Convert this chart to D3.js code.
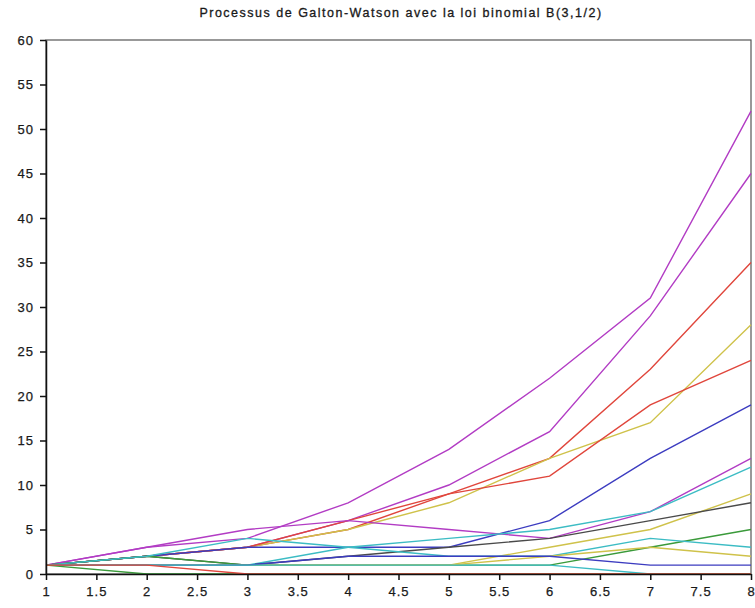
<!DOCTYPE html>
<html>
<head>
<meta charset="utf-8">
<script src="https://cdn.jsdelivr.net/npm/d3@7"></script>
<style>
  body { margin: 0; background: #fff; }
  svg text { font-family: "Liberation Sans", Arial, sans-serif; fill: #222; }
</style>
</head>
<body>
<div id="chart"></div>
<script>
// generations (x axis)
const generations = [1, 2, 3, 4, 5, 6, 7, 8];

// population size per generation, one array per simulated trajectory
const trajA = [1, 3, 4, 8, 14, 22, 31, 52];
const trajB = [1, 2, 3, 6, 10, 16, 29, 45];
const trajC = [1, 2, 3, 5, 9, 13, 23, 35];
const trajD = [1, 2, 3, 5, 8, 13, 17, 28];
const trajE = [1, 2, 3, 6, 9, 11, 19, 24];
const trajF = [1, 2, 3, 3, 3, 6, 13, 19];
const trajG = [1, 3, 5, 6, 5, 4, 7, 13];
const trajH = [1, 1, 1, 3, 4, 5, 7, 12];
const trajI = [1, 1, 1, 1, 1, 3, 5, 9];
const trajJ = [1, 2, 1, 2, 3, 4, 6, 8];
const trajK = [1, 2, 1, 1, 1, 1, 3, 5];
const trajL = [1, 2, 4, 3, 2, 2, 4, 3];
const trajM = [1, 1, 1, 1, 1, 2, 3, 2];
const trajN = [1, 1, 1, 2, 2, 2, 1, 1];
const trajO = [1, 1, 1, 1, 1, 1, 0, 0];
const trajP = [1, 0, 0, 0, 0, 0, 0, 0];
const trajQ = [1, 1, 0, 0, 0, 0, 0, 0];

const trajectories = [trajA, trajB, trajC, trajD, trajE, trajF, trajG, trajH, trajI,
  trajJ, trajK, trajL, trajM, trajN, trajO, trajP, trajQ];
const lineColors = ["#b23cc4", "#b23cc4", "#e0463c", "#cfc24a", "#e0463c", "#3c3cc0",
  "#b23cc4", "#3cbcc4", "#cfc24a", "#4a4a4a", "#3a9a3a", "#3cbcc4", "#cfc24a",
  "#3c3cc0", "#3cbcc4", "#3a9a3a", "#e0463c"];

const xTicks = [1, 1.5, 2, 2.5, 3, 3.5, 4, 4.5, 5, 5.5, 6, 6.5, 7, 7.5, 8];
const yTicks = [0, 5, 10, 15, 20, 25, 30, 35, 40, 45, 50, 55, 60];

const title = "Processus de Galton-Watson avec la loi binomial B(3,1/2)";

const w = 755, h = 608;
const margins = { top: 40, left: 46, bottom: 34, right: 4 };

const svg = d3.select("#chart").append("svg")
  .attr("width", w).attr("height", h);

const xScale = d3.scaleLinear().domain([1, 8]).range([margins.left, w - margins.right]);
const yScale = d3.scaleLinear().domain([0, 60]).range([h - margins.bottom, margins.top]);

// frame (top / right)
svg.append("rect")
  .attr("x", xScale(1)).attr("y", yScale(60))
  .attr("width", xScale(8) - xScale(1))
  .attr("height", yScale(0) - yScale(60))
  .attr("fill", "none").attr("stroke", "#555").attr("stroke-width", 1.2);

const line = d3.line()
  .x((d, i) => xScale(generations[i]))
  .y((d) => yScale(d));

svg.append("g").selectAll("path")
  .data(trajectories)
  .join("path")
  .attr("d", line)
  .attr("fill", "none")
  .attr("stroke", (d, i) => lineColors[i])
  .attr("stroke-width", 1.4);

const xAxis = d3.axisBottom(xScale).tickValues(xTicks).tickFormat(d3.format("")).tickSize(6).tickSizeOuter(0);
const yAxis = d3.axisLeft(yScale).tickValues(yTicks).tickSize(6).tickSizeOuter(0);

const gx = svg.append("g")
  .attr("transform", `translate(0, ${yScale(0)})`)
  .call(xAxis);
gx.select(".domain").attr("stroke", "#111").attr("stroke-width", 1.5);
gx.selectAll(".tick line").attr("stroke", "#111").attr("stroke-width", 1.5);
gx.selectAll(".tick text")
  .attr("y", 13)
  .attr("font-size", 13)
  .attr("letter-spacing", 1)
  .style("font-family", "\"Liberation Sans\", Arial, sans-serif")
  .attr("fill", "#111")
  .attr("stroke", "#111").attr("stroke-width", 0.25);

const gy = svg.append("g")
  .attr("transform", `translate(${xScale(1)}, 0)`)
  .call(yAxis);
gy.select(".domain").attr("stroke", "#111").attr("stroke-width", 1.5);
gy.selectAll(".tick line").attr("stroke", "#111").attr("stroke-width", 1.5);
gy.selectAll(".tick text")
  .attr("x", -12)
  .attr("font-size", 13)
  .attr("letter-spacing", 1)
  .style("font-family", "\"Liberation Sans\", Arial, sans-serif")
  .attr("fill", "#111")
  .attr("stroke", "#111").attr("stroke-width", 0.25);

svg.append("text")
  .attr("x", 401).attr("y", 17)
  .attr("text-anchor", "middle")
  .attr("font-size", 12.5)
  .attr("letter-spacing", 1.5)
  .attr("fill", "#111")
  .attr("stroke", "#111").attr("stroke-width", 0.3)
  .text(title);
</script>
</body>
</html>
